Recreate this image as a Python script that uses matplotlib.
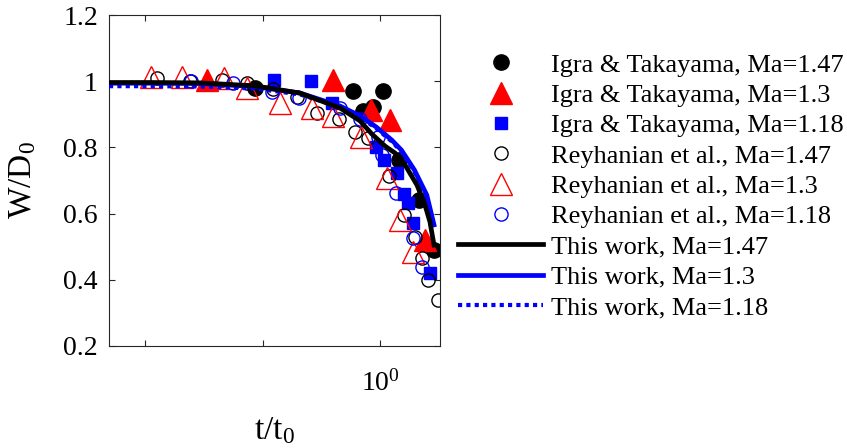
import matplotlib
matplotlib.use('Agg')
import matplotlib.pyplot as plt
from matplotlib.ticker import FixedLocator, FixedFormatter, NullLocator

plt.rcParams['font.family'] = ['Liberation Serif', 'DejaVu Serif']
plt.rcParams['mathtext.fontset'] = 'custom'
plt.rcParams['mathtext.rm'] = 'Liberation Serif'
plt.rcParams['mathtext.it'] = 'Liberation Serif:italic'

# Igra & Takayama (experiments)
igra147_t = [0.0863, 0.589, 1.06, 0.717, 0.872, 1.451, 2.15, 2.88]
igra147_w = [0.979, 0.970, 0.970, 0.910, 0.922, 0.762, 0.641, 0.490]
igra13_t = [0.0337, 0.398, 0.838, 1.216, 2.41]
igra13_w = [1.004, 1.004, 0.913, 0.883, 0.520]
igra118_t = [0.125, 0.259, 0.390, 0.925, 1.081, 1.395, 1.60, 1.73, 1.91, 2.66]
igra118_w = [1.004, 1.001, 0.934, 0.801, 0.762, 0.723, 0.659, 0.632, 0.572, 0.421]

# Reyhanian et al.
rey147_t = [0.01265, 0.0242, 0.0452, 0.0738, 0.123, 0.197, 0.291, 0.448,
            0.612, 0.791, 1.19, 1.60, 1.99, 2.28, 2.56, 3.11]
rey147_w = [1.010, 1.001, 1.004, 0.995, 0.976, 0.952, 0.904, 0.886,
            0.847, 0.828, 0.714, 0.596, 0.529, 0.466, 0.399, 0.339]
rey13_t = [0.01125, 0.0206, 0.047, 0.0738, 0.141, 0.264, 0.398, 0.689, 1.147, 1.48, 1.91]
rey13_w = [1.013, 1.013, 1.010, 0.979, 0.934, 0.919, 0.895, 0.831, 0.708, 0.581, 0.484]
rey118_t = [0.0246, 0.0561, 0.120, 0.205, 0.457, 0.676, 0.962, 1.04, 1.37, 1.91, 2.28]
rey118_w = [1.001, 0.995, 0.967, 0.949, 0.919, 0.886, 0.831, 0.777, 0.662, 0.526, 0.439]

# This work
tw147_t = [0.00494, 0.0110, 0.0294, 0.0863, 0.209, 0.457, 0.676, 0.855,
           1.103, 1.342, 1.633, 2.065, 2.413, 2.66, 2.88]
tw147_w = [0.996, 0.996, 0.995, 0.986, 0.964, 0.919, 0.880, 0.840,
           0.804, 0.783, 0.747, 0.686, 0.626, 0.575, 0.505]
tw13_t = [0.00494, 0.0110, 0.0294, 0.0863, 0.209, 0.457, 0.676, 0.925,
          1.26, 1.52, 1.96, 2.50, 2.88]
tw13_w = [0.994, 0.994, 0.993, 0.984, 0.964, 0.925, 0.895, 0.862,
          0.822, 0.792, 0.732, 0.656, 0.566]
tw118_t = [0.00494, 0.0110, 0.0294, 0.0863, 0.209, 0.457, 0.676, 0.925,
           1.26, 1.52, 1.96, 2.50, 2.80]
tw118_w = [0.985, 0.985, 0.984, 0.978, 0.960, 0.922, 0.892, 0.858,
           0.818, 0.787, 0.727, 0.650, 0.575]

fig = plt.figure(figsize=(8.47, 4.48), dpi=100)
ax = fig.add_axes([0.1287, 0.2277, 0.3908, 0.7388])

ax.plot(igra147_t, igra147_w, 'o', color='k', ms=11, label='Igra & Takayama, Ma=1.47')
ax.plot(igra13_t, igra13_w, '^', color='r', ms=16, label='Igra & Takayama, Ma=1.3')
ax.plot(igra118_t, igra118_w, 's', color='b', ms=8.5, label='Igra & Takayama, Ma=1.18')
ax.plot(rey147_t, rey147_w, 'o', mfc='none', mec='k', ms=9.5, mew=1, label='Reyhanian et al., Ma=1.47')
ax.plot(rey13_t, rey13_w, '^', mfc='none', mec='r', ms=16, mew=1, label='Reyhanian et al., Ma=1.3')
ax.plot(rey118_t, rey118_w, 'o', mfc='none', mec='b', ms=9.5, mew=1, label='Reyhanian et al., Ma=1.18')
ax.plot(tw147_t, tw147_w, '-', color='k', lw=3.4, label='This work, Ma=1.47', zorder=5)
ax.plot(tw13_t, tw13_w, '-', color='b', lw=3.4, label='This work, Ma=1.3', zorder=4)
ax.plot(tw118_t, tw118_w, color='b', lw=3, ls=(0, (1, 1)), label='This work, Ma=1.18', zorder=4)

ax.set_xscale('log')
ax.set_xlim(0.00494, 3.24)
ax.set_ylim(0.2, 1.2)
ax.xaxis.set_major_locator(FixedLocator([0.01, 0.1, 1]))
ax.xaxis.set_major_formatter(FixedFormatter(['', '', r'$\mathregular{10^0}$']))
ax.xaxis.set_minor_locator(NullLocator())
ax.set_yticks([0.2, 0.4, 0.6, 0.8, 1.0, 1.2])
ax.set_yticklabels(['0.2', '0.4', '0.6', '0.8', '1', '1.2'])
ax.tick_params(direction='in', top=True, right=True, length=4, width=0.8,
               color='#262626', labelsize=20, pad=8)
ax.tick_params(axis='x', pad=17)
for s in ax.spines.values():
    s.set_color('#262626')
    s.set_linewidth(0.8)

ax.set_xlabel(r'$\mathregular{t/t_0}$', fontsize=24, labelpad=14)
ax.set_ylabel(r'$\mathregular{W/D_0}$', fontsize=24, labelpad=18)

ax.legend(loc='center left', bbox_to_anchor=(1.0, 0.483), frameon=False,
          fontsize=19, handlelength=3.2, labelspacing=0.26, handletextpad=0.3,
          borderpad=0.2)

fig.savefig('out.png', dpi=100)
